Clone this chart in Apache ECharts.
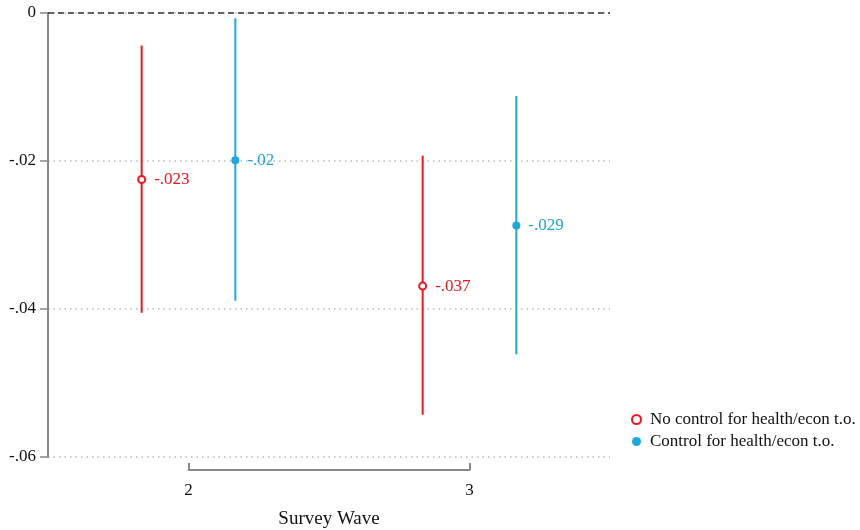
<!DOCTYPE html>
<html><head><meta charset="utf-8">
<script src="https://cdn.jsdelivr.net/npm/echarts@6/dist/echarts.min.js"></script>
<style>html,body{margin:0;padding:0;background:#fff}#c{width:860px;height:530px}</style>
</head><body><div id="c"></div>
<script>
var waves = [2, 3];
var offset = 1/6;
var seriesNames = ['No control for health/econ t.o.', 'Control for health/econ t.o.'];
var noCtrlEst = [-0.0225, -0.0369];
var noCtrlLo = [-0.0405, -0.0543];
var noCtrlHi = [-0.0044, -0.0193];
var noCtrlLbl = ['-.023', '-.037'];
var ctrlEst = [-0.0199, -0.0287];
var ctrlLo = [-0.0389, -0.0461];
var ctrlHi = [-0.0007, -0.0112];
var ctrlLbl = ['-.02', '-.029'];
var yTicks = [0, -0.02, -0.04, -0.06];
var yTickLabels = ['0', '-.02', '-.04', '-.06'];

var RED = '#f8121a', BLUE = '#1ba8e0';
var FONT = '"Liberation Serif", "DejaVu Serif", serif';

var gridL = 48, gridR = 250, W = 860;
var xMin = 1.5, xMax = 3.5;
var plotW = W - gridL - gridR;
var bL = gridL + (waves[0] - xMin) / (xMax - xMin) * plotW;
var bR = W - (gridL + (waves[1] - xMin) / (xMax - xMin) * plotW);

function pts(est, lbl, sign) {
  return waves.map(function (w, i) { return { value: [w + sign * offset, est[i]], lbl: lbl[i] }; });
}
function bars(lo, hi, sign) {
  return waves.map(function (w, i) { return [w + sign * offset, lo[i], hi[i]]; });
}
function errItem(color) {
  return function (params, api) {
    var a = api.coord([api.value(0), api.value(1)]);
    var b = api.coord([api.value(0), api.value(2)]);
    return { type: 'line', shape: { x1: a[0], y1: a[1], x2: b[0], y2: b[1] }, style: { stroke: color, lineWidth: 2 } };
  };
}

var chart = echarts.init(document.getElementById('c'));
chart.setOption({
  animation: false,
  textStyle: { fontFamily: FONT },
  grid: [
    { left: gridL, right: gridR, top: 13, bottom: 73 },
    { left: bL, right: bR, top: 470, height: 0 }
  ],
  legend: {
    orient: 'vertical', left: 626, top: 406, itemGap: 5,
    itemWidth: 9, itemHeight: 9,
    data: [
      { name: seriesNames[0], icon: 'circle', itemStyle: { color: '#fff', borderColor: RED, borderWidth: 2 } },
      { name: seriesNames[1], icon: 'circle', itemStyle: { color: BLUE } }
    ],
    textStyle: { fontFamily: FONT, fontSize: 17, color: '#111', padding: [0, 0, 0, 4] }
  },
  xAxis: [
    { gridIndex: 0, type: 'value', min: xMin, max: xMax, show: false, splitLine: { show: false } },
    { gridIndex: 1, type: 'value', min: waves[0], max: waves[1], interval: 1, position: 'bottom',
      axisLine: { show: true, lineStyle: { color: '#888', width: 2 } },
      axisTick: { show: true, inside: true, length: 7, lineStyle: { color: '#888', width: 2 } },
      axisLabel: { fontFamily: FONT, fontSize: 17, color: '#111', margin: 12 },
      splitLine: { show: false },
      name: 'Survey Wave', nameLocation: 'middle', nameGap: 40,
      nameTextStyle: { fontFamily: FONT, fontSize: 19, color: '#111' } }
  ],
  yAxis: [
    { gridIndex: 0, type: 'value', min: -0.06, max: 0, interval: 0.02,
      axisLine: { show: true, lineStyle: { color: '#888', width: 2 } },
      axisTick: { show: true, length: 8, lineStyle: { color: '#888', width: 1.5 } },
      axisLabel: { fontFamily: FONT, fontSize: 17, color: '#111', margin: 12,
        formatter: function (v) { var i = yTicks.findIndex(function (t) { return Math.abs(t - v) < 1e-9; }); return i >= 0 ? yTickLabels[i] : ''; } },
      splitLine: { show: true, lineStyle: { color: '#bbb', type: [1.5, 4], width: 1.5 } } },
    { gridIndex: 1, type: 'value', show: false }
  ],
  series: [
    { type: 'custom', xAxisIndex: 0, yAxisIndex: 0, renderItem: errItem(RED), data: bars(noCtrlLo, noCtrlHi, -1), z: 2, silent: true },
    { type: 'custom', xAxisIndex: 0, yAxisIndex: 0, renderItem: errItem(BLUE), data: bars(ctrlLo, ctrlHi, 1), z: 2, silent: true },
    { name: seriesNames[0], type: 'scatter', xAxisIndex: 0, yAxisIndex: 0, symbol: 'circle', symbolSize: 7, z: 3,
      itemStyle: { color: '#fff', borderColor: RED, borderWidth: 2, opacity: 1 },
      label: { show: true, position: 'right', distance: 8, color: RED, fontFamily: FONT, fontSize: 17,
        formatter: function (p) { return p.data.lbl; } },
      data: pts(noCtrlEst, noCtrlLbl, -1),
      markLine: { silent: true, symbol: 'none', label: { show: false },
        lineStyle: { color: '#333', type: [6, 4], width: 1.5 }, data: [{ yAxis: 0 }] } },
    { name: seriesNames[1], type: 'scatter', xAxisIndex: 0, yAxisIndex: 0, symbol: 'circle', symbolSize: 8, z: 3,
      itemStyle: { color: BLUE, opacity: 1 },
      label: { show: true, position: 'right', distance: 8, color: BLUE, fontFamily: FONT, fontSize: 17,
        formatter: function (p) { return p.data.lbl; } },
      data: pts(ctrlEst, ctrlLbl, 1) }
  ]
});
</script></body></html>
